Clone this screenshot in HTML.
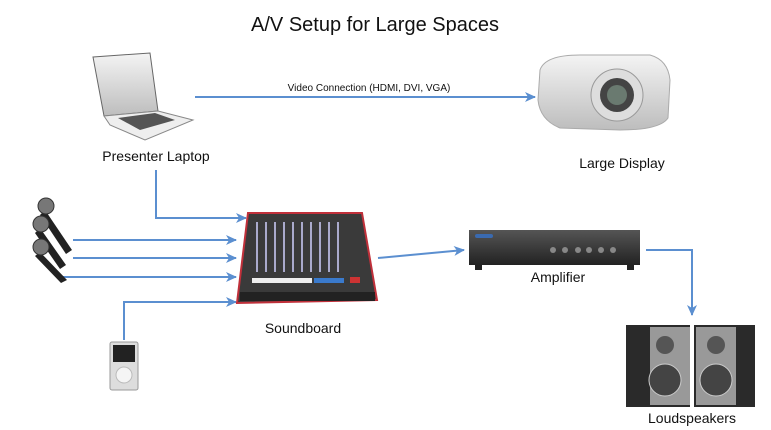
<!DOCTYPE html>
<html><head><meta charset="utf-8"><style>
body{margin:0;background:#fff;width:771px;height:430px;overflow:hidden}
svg{display:block}
text{font-family:"Liberation Sans",sans-serif;fill:#111}
</style></head><body>
<svg width="771" height="430" viewBox="0 0 771 430">
<defs>
<marker id="a" markerWidth="11" markerHeight="10" refX="10" refY="5" orient="auto" markerUnits="userSpaceOnUse"><path d="M0,0 L11,5 L0,10 L3,5z" fill="#5b8fd0"/></marker>
<linearGradient id="g1" x1="0" y1="0" x2="0" y2="1"><stop offset="0" stop-color="#f4f4f4"/><stop offset="1" stop-color="#bdbdbd"/></linearGradient>
<linearGradient id="g2" x1="0" y1="0" x2="0" y2="1"><stop offset="0" stop-color="#555"/><stop offset="1" stop-color="#222"/></linearGradient>
</defs>
<text x="375" y="31" font-size="20" text-anchor="middle">A/V Setup for Large Spaces</text>
<g stroke="#5b8fd0" stroke-width="2" fill="none" marker-end="url(#a)">
<path d="M195 97 H535"/>
<path d="M156 170 V218 H246"/>
<path d="M73 240 H236"/>
<path d="M73 258 H236"/>
<path d="M63 277 H236"/>
<path d="M124 340 V302 H236"/>
<path d="M378 258 L464 250"/>
<path d="M646 250 H692 V315"/>
</g>
<text x="369" y="91" font-size="10" text-anchor="middle">Video Connection (HDMI, DVI, VGA)</text>
<!-- laptop -->
<path d="M93 57 L150 53 L158 111 L104 116z" fill="url(#g1)" stroke="#666"/>
<path d="M104 116 L158 111 L193 120 L145 140 L110 125z" fill="#eee" stroke="#888"/>
<path d="M118 118 L155 113 L175 120 L140 130z" fill="#555"/>
<text x="156" y="161" font-size="14" text-anchor="middle">Presenter Laptop</text>
<!-- projector -->
<path d="M540 70 Q545 55 580 55 L650 55 Q668 60 670 80 L668 118 Q660 130 620 130 L560 128 Q540 120 538 100z" fill="url(#g1)" stroke="#aaa"/>
<circle cx="617" cy="95" r="26" fill="#ddd" stroke="#999"/>
<circle cx="617" cy="95" r="17" fill="#444"/>
<circle cx="617" cy="95" r="10" fill="#6a7a70"/>
<text x="622" y="168" font-size="14" text-anchor="middle">Large Display</text>
<!-- mics -->
<g fill="#222"><path d="M45 210 L72 250 L66 254 L40 215z"/><path d="M40 228 L66 265 L60 269 L35 233z"/><path d="M40 252 L67 280 L61 283 L35 256z"/></g>
<g fill="#777" stroke="#333"><circle cx="46" cy="206" r="8"/><circle cx="41" cy="224" r="8"/><circle cx="41" cy="247" r="8"/></g>
<!-- ipod -->
<rect x="110" y="342" width="28" height="48" rx="2" fill="#ddd" stroke="#999"/>
<rect x="113" y="345" width="22" height="17" fill="#222"/>
<circle cx="124" cy="375" r="8" fill="#f5f5f5" stroke="#bbb"/>
<!-- soundboard -->
<path d="M248 213 L362 213 L377 300 L237 303z" fill="#3a3a3a" stroke="#c0303a" stroke-width="2"/>
<g fill="#aac" ><rect x="256" y="222" width="2" height="50"/><rect x="265" y="222" width="2" height="50"/><rect x="274" y="222" width="2" height="50"/><rect x="283" y="222" width="2" height="50"/><rect x="292" y="222" width="2" height="50"/><rect x="301" y="222" width="2" height="50"/><rect x="310" y="222" width="2" height="50"/><rect x="319" y="222" width="2" height="50"/><rect x="328" y="222" width="2" height="50"/><rect x="337" y="222" width="2" height="50"/></g>
<g fill="#eee"><rect x="252" y="278" width="60" height="5"/></g><g fill="#3a7acc"><rect x="314" y="278" width="30" height="5"/></g>
<rect x="350" y="277" width="10" height="6" fill="#c33"/>
<rect x="240" y="292" width="135" height="9" fill="#222"/>
<text x="303" y="333" font-size="14" text-anchor="middle">Soundboard</text>
<!-- amp -->
<rect x="469" y="230" width="171" height="35" fill="url(#g2)"/>
<rect x="475" y="265" width="7" height="5" fill="#222"/><rect x="627" y="265" width="7" height="5" fill="#222"/>
<g fill="#888"><circle cx="553" cy="250" r="3"/><circle cx="565" cy="250" r="3"/><circle cx="578" cy="250" r="3"/><circle cx="589" cy="250" r="3"/><circle cx="601" cy="250" r="3"/><circle cx="613" cy="250" r="3"/></g>
<rect x="475" y="234" width="18" height="4" rx="2" fill="#3a6ab0"/>
<text x="558" y="282" font-size="14" text-anchor="middle">Amplifier</text>
<!-- speakers -->
<rect x="626" y="325" width="64" height="82" fill="#2a2a2a"/>
<rect x="694" y="325" width="61" height="82" fill="#2a2a2a"/>
<rect x="650" y="327" width="40" height="78" fill="#999"/>
<rect x="696" y="327" width="40" height="78" fill="#999"/>
<circle cx="665" cy="345" r="9" fill="#555"/><circle cx="665" cy="380" r="16" fill="#444" stroke="#ccc"/>
<circle cx="716" cy="345" r="9" fill="#555"/><circle cx="716" cy="380" r="16" fill="#444" stroke="#ccc"/>
<text x="692" y="423" font-size="14" text-anchor="middle">Loudspeakers</text>
</svg>
</body></html>
